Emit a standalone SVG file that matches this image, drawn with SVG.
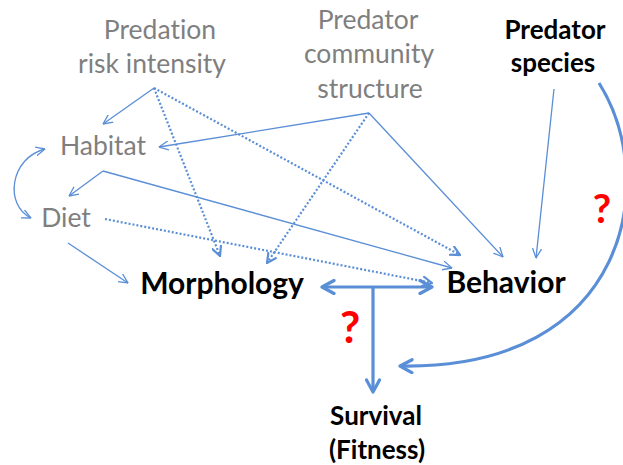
<svg xmlns="http://www.w3.org/2000/svg" width="623" height="465" viewBox="0 0 623 465">
<defs>
<style>
text{font-variant-ligatures:none}
.g{font-family:Lato,"Liberation Sans",sans-serif;font-size:26.5px;fill:#7f7f7f;text-anchor:middle}
.b{font-family:Lato,"Liberation Sans",sans-serif;font-weight:bold;fill:#000;text-anchor:middle}
.q{font-family:Lato,"Liberation Sans",sans-serif;font-weight:bold;fill:#ff0000;text-anchor:middle}
.t{fill:none;stroke:#5a8ed6;stroke-width:1.3}
.d{fill:none;stroke:#5a8ed6;stroke-width:2.2;stroke-dasharray:2 2}
.k{fill:none;stroke:#5a8ed6;stroke-width:3.2}
</style>
<marker id="a" viewBox="0 0 10 10" refX="9.5" refY="5" markerWidth="10" markerHeight="10" orient="auto-start-reverse" markerUnits="userSpaceOnUse">
<path d="M0,0.5 L9.5,5 L0,9.5" fill="none" stroke="#5a8ed6" stroke-width="1.3"/>
</marker>
<marker id="ad" viewBox="0 0 10 10" refX="9" refY="5" markerWidth="11" markerHeight="11" orient="auto-start-reverse" markerUnits="userSpaceOnUse">
<path d="M0,0.5 L9,5 L0,9.5" fill="none" stroke="#5a8ed6" stroke-width="2"/>
</marker>
<marker id="ak" viewBox="0 0 16 16" refX="14" refY="8" markerWidth="16" markerHeight="16" orient="auto-start-reverse" markerUnits="userSpaceOnUse">
<path d="M2,1.5 L14,8 L2,14.5" fill="none" stroke="#5a8ed6" stroke-width="3.2" stroke-linecap="round" stroke-linejoin="round"/>
</marker>
</defs>
<rect width="623" height="465" fill="#fff"/>
<g id="connectors">
<path class="t" d="M154,88 L103,124" marker-end="url(#a)"/>
<path class="d" d="M154,88 L220,256" marker-end="url(#ad)"/>
<path class="d" d="M154,88 L460,255" marker-end="url(#ad)"/>
<path class="t" d="M369,113 L159,147" marker-end="url(#a)"/>
<path class="d" d="M369,113 L267,263" marker-end="url(#ad)"/>
<path class="t" d="M369,113 L503,257" marker-end="url(#a)"/>
<path class="t" d="M103,171 L69,196" marker-end="url(#a)"/>
<path class="t" d="M103,171 L452,268" marker-end="url(#a)"/>
<path class="d" d="M105,219 L432,283" marker-end="url(#ad)"/>
<path class="t" d="M68,243 L128,283" marker-end="url(#a)"/>
<path class="t" d="M45,149 C10,158 4,205 31,218" marker-start="url(#a)" marker-end="url(#a)"/>
<path class="t" d="M554,89 L536,258" marker-end="url(#a)"/>
<path class="k" d="M599,83 C660,180 630,370 400,366" marker-end="url(#ak)"/>
<path class="k" d="M322,287 L432,287" marker-start="url(#ak)" marker-end="url(#ak)"/>
<path class="k" d="M373,287 L373,392" marker-end="url(#ak)"/>
</g>
<g id="predation-risk"><text class="g" x="160" y="39">Predation</text><text class="g" x="152" y="73">risk intensity</text></g>
<g id="predator-community"><text class="g" x="368" y="29">Predator</text><text class="g" x="369" y="63">community</text><text class="g" x="370" y="98">structure</text></g>
<g id="predator-species"><text class="b" x="555" y="39" font-size="26">Predator</text><text class="b" x="553" y="72" font-size="26">species</text></g>
<g id="habitat"><text class="g" x="103" y="155">Habitat</text></g>
<g id="diet"><text class="g" x="66" y="227">Diet</text></g>
<g id="morphology"><text class="b" x="222" y="294" font-size="30">Morphology</text></g>
<g id="behavior"><text class="b" x="506" y="293" font-size="30">Behavior</text></g>
<g id="survival"><text class="b" x="376" y="425" font-size="26">Survival</text><text class="b" x="377" y="459" font-size="26">(Fitness)</text></g>
<g id="q1"><text class="q" x="350" y="343" font-size="44">?</text></g>
<g id="q2"><text class="q" x="602" y="223" font-size="40">?</text></g>
</svg>
